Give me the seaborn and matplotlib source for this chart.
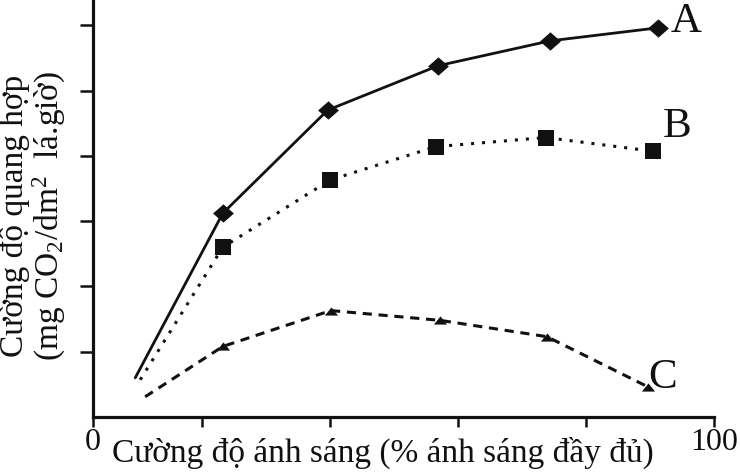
import matplotlib
matplotlib.use('Agg')
import matplotlib.pyplot as plt
import seaborn as sns

# Data (x in % of full light, y in axis units)
light_A = [6.8, 20.9, 37.8, 55.6, 73.6, 91.0]
rate_A = [0.60, 3.12, 4.70, 5.38, 5.76, 5.96]
light_B = [7.6, 20.9, 38.2, 55.2, 72.9, 90.2]
rate_B = [0.57, 2.60, 3.63, 4.14, 4.28, 4.07]
light_C = [8.4, 20.9, 38.3, 55.9, 73.1, 89.4]
rate_C = [0.31, 1.08, 1.63, 1.48, 1.23, 0.46]
series_names = ["A", "B", "C"]
x_tick_pos = [0, 17.6, 38.2, 58.8, 79.4, 100]
x_tick_labels = ["0", "", "", "", "", "100"]
y_tick_pos = [1, 2, 3, 4, 5, 6]

sns.set_style('ticks')
plt.rcParams['font.family'] = ['Liberation Serif', 'DejaVu Serif']
plt.rcParams['mathtext.fontset'] = 'custom'
plt.rcParams['mathtext.rm'] = 'Liberation Serif'
plt.rcParams['mathtext.it'] = 'Liberation Serif:italic'

fig = plt.figure(figsize=(7.4, 4.73), dpi=100)
ax = fig.add_axes([93/740, 56/473, 621/740, 417/473])

col = '#111111'
mk = [1, 2, 3, 4, 5]
diamond = [(0, 0.88), (1, 0), (0, -0.88), (-1, 0)]
tri = [(-1, -0.62), (1, -0.62), (0, 0.62)]
common = dict(ax=ax, color=col, sort=False, estimator=None, markevery=mk,
              markeredgecolor=col, markeredgewidth=0)
sns.lineplot(x=light_A, y=rate_A, lw=2.0, linestyle='-',
             marker=diamond, markersize=15, **common)
sns.lineplot(x=light_B, y=rate_B, lw=2.2, linestyle=(0, (1, 2.6)),
             marker='s', markersize=11, **common)
sns.lineplot(x=light_C, y=rate_C, lw=2.2, linestyle=(0, (3, 2.2)),
             marker=tri, markersize=9.5, **common)

label_pos = [(93.0, 5.90), (91.8, 4.29), (89.4, 0.44)]
for name, (lx, ly) in zip(series_names, label_pos):
    ax.text(lx, ly, name, fontsize=31, ha='left', va='baseline', color=col)

ax.set_xlim(0, 100)
ax.set_ylim(0, 417/65.3)
ax.set_xticks(x_tick_pos, labels=x_tick_labels)
ax.set_yticks(y_tick_pos, labels=[""] * len(y_tick_pos))
ax.tick_params(axis='x', which='major', length=7, width=1.8, direction='out',
               labelsize=23, pad=1, colors=col)
ax.tick_params(axis='y', which='major', length=9.4, width=1.8, direction='out', colors=col)

for s in ['top', 'right']:
    ax.spines[s].set_visible(False)
for s in ['left', 'bottom']:
    ax.spines[s].set_linewidth(2.3)
    ax.spines[s].set_color(col)

ax.set_xlabel("Cường độ ánh sáng (% ánh sáng đầy đủ)", fontsize=24, color=col)
ax.xaxis.set_label_coords(0.466, -0.047)
ax.set_ylabel("Cường độ quang hợp\n(mg CO$_2$/dm$^2$  lá.giờ)", fontsize=24,
              color=col, linespacing=1.05)
ax.yaxis.set_label_coords(-0.04, 0.482)

fig.savefig('out.png', dpi=100)
